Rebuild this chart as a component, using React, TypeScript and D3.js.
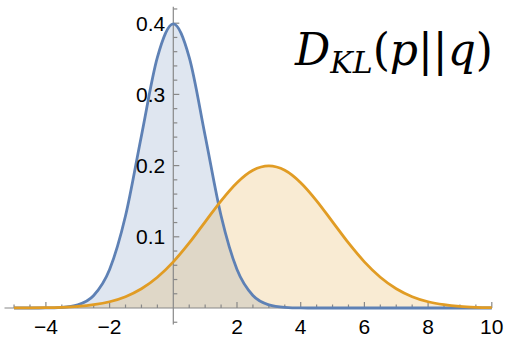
import { useRef, useEffect } from 'react';
import * as d3 from 'd3';

// sample positions along x and the two densities
const xs = [-5, -4.5, -4, -3.5, -3, -2.5, -2, -1.5, -1, -0.5, 0, 0.5, 1, 1.5, 2, 2.5, 3, 3.5, 4, 4.5, 5, 5.5, 6, 6.5, 7, 7.5, 8, 8.5, 9, 9.5, 10];
const pValues = [0, 0, 0.0001, 0.0009, 0.0044, 0.0175, 0.054, 0.1295, 0.242, 0.352, 0.399, 0.352, 0.242, 0.1295, 0.054, 0.0175, 0.0044, 0.0009, 0.0001, 0, 0, 0, 0, 0, 0, 0, 0, 0, 0, 0, 0];
const qValues = [0.0001, 0.0002, 0.0004, 0.001, 0.0022, 0.0046, 0.0088, 0.0159, 0.027, 0.0432, 0.0648, 0.0913, 0.121, 0.1506, 0.176, 0.1934, 0.1995, 0.1934, 0.176, 0.1506, 0.121, 0.0913, 0.0648, 0.0432, 0.027, 0.0159, 0.0088, 0.0046, 0.0022, 0.001, 0.0004];

const xTicks = [-4, -2, 2, 4, 6, 8, 10];
const yTicks = [0.1, 0.2, 0.3, 0.4];

const width = 507;
const height = 337;

export default function App() {
  const svgRef = useRef(null);

  function renderChart() {
    const svg = d3.select(svgRef.current);
    svg.selectAll('*').remove();

    const x = d3.scaleLinear().domain([-5, 10]).range([14.05, 491.8]);
    const y = d3.scaleLinear().domain([0, 0.4]).range([308, 23.2]);

    const series = [
      { values: pValues, stroke: '#5E81B5', fill: '#5E81B5' },
      { values: qValues, stroke: '#E19C24', fill: '#E19C24' },
    ];

    const area = d3
      .area<number>()
      .x((d, i) => x(xs[i]))
      .y0(y(0))
      .y1((d) => y(d))
      .curve(d3.curveMonotoneX);

    const line = d3
      .line<number>()
      .x((d, i) => x(xs[i]))
      .y((d) => y(d))
      .curve(d3.curveMonotoneX);

    series.forEach((s) => {
      svg
        .append('path')
        .attr('d', area(s.values))
        .attr('fill', s.fill)
        .attr('fill-opacity', 0.2);
    });

    // axes
    const axisColor = '#888888';
    const ax = svg.append('g').attr('stroke', axisColor).attr('stroke-width', 1.2);
    ax.append('line')
      .attr('x1', x(-5.3)).attr('x2', x(10))
      .attr('y1', y(0)).attr('y2', y(0));
    ax.append('line')
      .attr('x1', x(0)).attr('x2', x(0))
      .attr('y1', y(-0.023)).attr('y2', y(0.423));

    const xMinor = d3.range(-5, 10.01, 0.5).filter((v) => v !== 0);
    ax.selectAll('.xt')
      .data(xMinor)
      .join('line')
      .attr('x1', (d) => x(d)).attr('x2', (d) => x(d))
      .attr('y1', y(0))
      .attr('y2', (d) => y(0) - (Number.isInteger(d / 2) ? 6 : 3.5));

    const yMinor = d3.range(-0.02, 0.4201, 0.02).map((v) => Math.round(v * 100) / 100).filter((v) => v !== 0);
    ax.selectAll('.yt')
      .data(yMinor)
      .join('line')
      .attr('y1', (d) => y(d)).attr('y2', (d) => y(d))
      .attr('x1', x(0))
      .attr('x2', (d) => x(0) + (Math.round(d * 100) % 10 === 0 ? 6 : 4));

    series.forEach((s) => {
      svg
        .append('path')
        .attr('d', line(s.values))
        .attr('fill', 'none')
        .attr('stroke', s.stroke)
        .attr('stroke-width', 2.8)
        .attr('stroke-linejoin', 'round');
    });

    const font = 'Liberation Sans, Arial, sans-serif';
    svg.selectAll('.xl')
      .data(xTicks)
      .join('text')
      .attr('x', (d) => x(d))
      .attr('y', 334)
      .attr('text-anchor', 'middle')
      .attr('font-family', font)
      .attr('font-size', 21)
      .attr('fill', '#000')
      .text((d) => (d < 0 ? '\u2212' + Math.abs(d) : String(d)));

    svg.selectAll('.yl')
      .data(yTicks)
      .join('text')
      .attr('x', x(0) - 8)
      .attr('y', (d) => y(d) + 7.5)
      .attr('text-anchor', 'end')
      .attr('font-family', font)
      .attr('font-size', 21)
      .attr('fill', '#000')
      .text((d) => d.toFixed(1));

    // title
    const title = svg
      .append('text')
      .attr('x', 493)
      .attr('y', 65)
      .attr('text-anchor', 'end')
      .attr('font-family', 'DejaVu Serif, Liberation Serif, serif')
      .attr('font-size', 44)
      .attr('fill', '#000');
    title.append('tspan').attr('font-style', 'italic').text('D');
    title.append('tspan').attr('font-style', 'italic').attr('font-size', 30).attr('dy', 8).text('KL');
    title.append('tspan').attr('dy', -8).text('(');
    title.append('tspan').attr('font-style', 'italic').text('p');
    title.append('tspan').text('||');
    title.append('tspan').attr('font-style', 'italic').text('q');
    title.append('tspan').text(')');
  }

  useEffect(() => {
    renderChart();
  }, []);

  return (
    <div>
      <svg
        ref={svgRef}
        width={width}
        height={height}
        style={{ position: 'absolute', left: 0, top: 0, background: '#fff' }}
      />
    </div>
  );
}
